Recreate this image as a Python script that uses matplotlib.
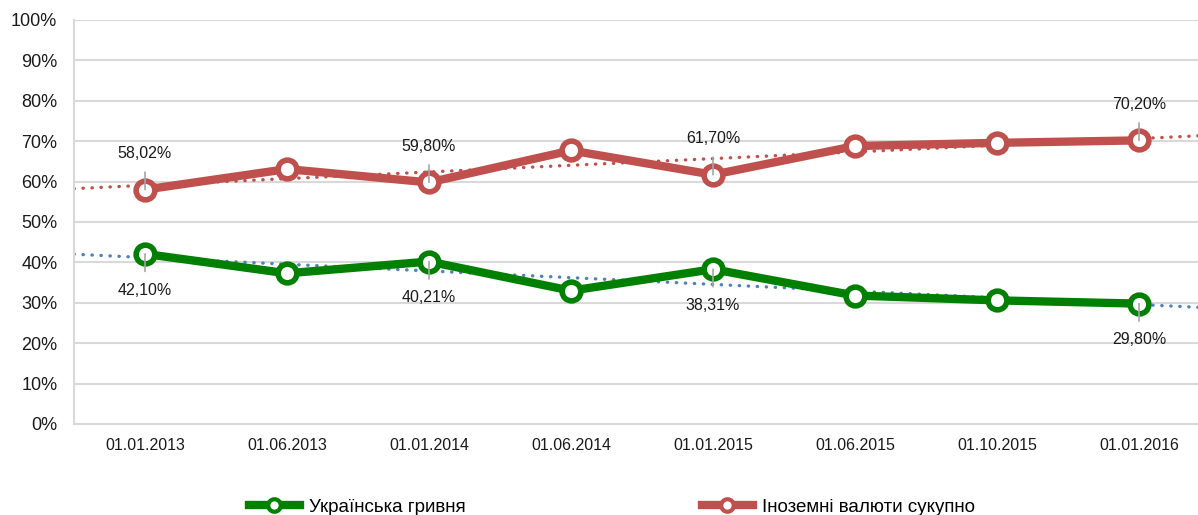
import numpy as np
import matplotlib.pyplot as plt
from matplotlib.ticker import FuncFormatter

dates = ["01.01.2013", "01.06.2013", "01.01.2014", "01.06.2014",
         "01.01.2015", "01.06.2015", "01.10.2015", "01.01.2016"]
uah = [42.10, 37.3, 40.21, 33.0, 38.31, 31.8, 30.6, 29.80]
foreign = [58.02, 63.1, 59.80, 67.7, 61.70, 68.8, 69.6, 70.20]
labelled = [0, 2, 4, 7]

green = "#008000"
red = "#C0504D"
blue = "#4F81BD"
grid_c = "#D9D9D9"

plt.rcParams['font.family'] = ['Liberation Sans', 'DejaVu Sans']

fig = plt.figure(figsize=(11.98, 5.15), dpi=100)
ax = fig.add_axes([74 / 1198, (515 - 424) / 515, 1136 / 1198, 404 / 515])

x = np.arange(len(dates))

# linear trend lines, drawn across the whole category band
xt = np.array([-0.5, len(dates) - 0.5])
for series, col in [(foreign, red), (uah, blue)]:
    k, b = np.polyfit(x, series, 1)
    ax.plot(xt, k * xt + b, color=col, lw=2.4, ls=(0, (0.1, 2.6)),
            dash_capstyle='round', zorder=2)

ax.plot(x, uah, color=green, lw=6, marker='o', ms=13.5, mfc='white',
        mec=green, mew=4, label="Українська гривня", zorder=3)
ax.plot(x, foreign, color=red, lw=6, marker='o', ms=13.5, mfc='white',
        mec=red, mew=4, label="Іноземні валюти сукупно", zorder=3)

def fmt(v):
    return f"{v:.2f}%".replace(".", ",")

for i in labelled:
    ax.annotate(fmt(foreign[i]), (x[i], foreign[i]), xytext=(0, 26),
                textcoords='offset points', ha='center', va='center',
                fontsize=11.5, color='#1a1a1a',
                arrowprops=dict(arrowstyle='-', color='#A6A6A6', lw=1.2,
                                shrinkA=6, shrinkB=0), zorder=4)
    ax.annotate(fmt(uah[i]), (x[i], uah[i]), xytext=(0, -26),
                textcoords='offset points', ha='center', va='center',
                fontsize=11.5, color='#1a1a1a',
                arrowprops=dict(arrowstyle='-', color='#A6A6A6', lw=1.2,
                                shrinkA=6, shrinkB=0), zorder=4)

ax.set_xlim(-0.5, len(dates) - 0.5)
ax.set_ylim(0, 100)
ax.set_yticks(np.arange(0, 101, 10))
ax.yaxis.set_major_formatter(FuncFormatter(lambda v, p: f"{v:.0f}%"))
ax.set_xticks(x)
ax.set_xticklabels(dates)
ax.tick_params(axis='y', length=0, labelsize=13, pad=12, colors='#1a1a1a')
ax.tick_params(axis='x', length=0, labelsize=11.5, pad=10, colors='#1a1a1a')
ax.grid(axis='y', color=grid_c, lw=1.5)
ax.set_axisbelow(True)
for s in ['top', 'right']:
    ax.spines[s].set_visible(False)
for s in ['left', 'bottom']:
    ax.spines[s].set_color(grid_c)
    ax.spines[s].set_linewidth(1.5)

leg = fig.legend(loc='center', bbox_to_anchor=(612 / 1198, 8 / 515), ncol=2,
                 frameon=False, handlelength=2.7, columnspacing=12.6,
                 handletextpad=0.5, fontsize=13.5)
for h in leg.legend_handles:
    h.set_markersize(9)
    h.set_markeredgewidth(3)

fig.savefig("out.png", dpi=100)
